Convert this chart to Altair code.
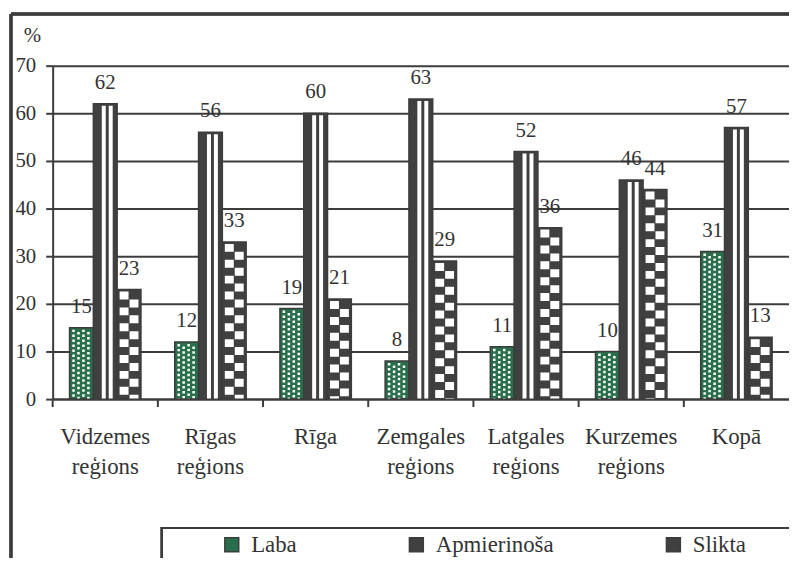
import altair as alt
import pandas as pd

categories = ["Vidzemes reģions", "Rīgas reģions", "Rīga", "Zemgales reģions",
              "Latgales reģions", "Kurzemes reģions", "Kopā"]
series = ["Laba", "Apmierinoša", "Slikta"]
laba = [15, 12, 19, 8, 11, 10, 31]
apmierinosa = [62, 56, 60, 63, 52, 46, 57]
slikta = [23, 33, 21, 29, 36, 44, 13]
y_ticks = [0, 10, 20, 30, 40, 50, 60, 70]

rows = []
for s, vals in zip(series, [laba, apmierinosa, slikta]):
    for c, v in zip(categories, vals):
        rows.append({"category": c, "series": s, "value": v})
df = pd.DataFrame(rows)
cat_df = pd.DataFrame({"category": categories})

DARK = "#3c3c3c"
FONT = "Liberation Serif"

PAD_OUTER = 0.71
step_frac = 1.0 / (3 + 2 * PAD_OUTER)
centers = {s: (PAD_OUTER + i + 0.5) * step_frac for i, s in enumerate(series)}

X = alt.X("category:N", sort=categories,
          scale=alt.Scale(paddingInner=0, paddingOuter=0),
          axis=alt.Axis(title=None, labelExpr="split(datum.label, ' ')",
                        labelFont=FONT, labelFontSize=23, labelColor="#333",
                        labelLineHeight=30, labelPadding=27, ticks=False,
                        labelAngle=0, domainColor=DARK, domainWidth=2,
                        zindex=1))
XO = alt.XOffset("series:N", sort=series,
                 scale=alt.Scale(domain=series, paddingOuter=PAD_OUTER, paddingInner=0))
Y = alt.Y("value:Q", scale=alt.Scale(domain=[0, 70], nice=False),
          axis=alt.Axis(values=y_ticks, title="%", titleAngle=0, titleX=-21,
                        titleY=-30, titleFont=FONT, titleFontSize=21,
                        titleFontWeight="normal", titleColor="#333",
                        titleAlign="center", titleBaseline="middle",
                        labelFont=FONT, labelFontSize=21, labelColor="#333",
                        labelPadding=10, tickSize=7, tickWidth=2, tickColor=DARK,
                        domainColor=DARK, domainWidth=2, grid=True,
                        gridColor=DARK, gridWidth=2))

base = alt.Chart(df)

bars = base.mark_bar(stroke=DARK, strokeWidth=1.5).encode(
    x=X, xOffset=XO, y=Y,
    color=alt.Color("series:N", sort=series,
                    scale=alt.Scale(domain=series, range=["#2a6f4c", "#404040", "#404040"]),
                    legend=alt.Legend(orient="none", legendX=169, legendY=471,
                                      direction="horizontal", title=None,
                                      symbolType="square", symbolSize=196,
                                      symbolStrokeColor=DARK, symbolStrokeWidth=1.5,
                                      labelFont=FONT, labelFontSize=23,
                                      labelColor="#333", labelOffset=8,
                                      columnPadding=109))
)


def stripes(sname, offsets, width, dash=None, alt_offset=0):
    layers = []
    for i, off in enumerate(offsets):
        kw = dict(color="white", strokeWidth=width, xOffset=off, yOffset=2, strokeCap="butt")
        if dash is not None:
            kw["strokeDash"] = dash
            if i % 2 == 1:
                kw["strokeDashOffset"] = alt_offset
        layers.append(
            base.transform_filter(alt.datum.series == sname).mark_rule(**kw).encode(
                x=alt.X("category:N", sort=categories, bandPosition=centers[sname]),
                y="value:Q", y2=alt.datum(0))
        )
    return layers

apm_layers = stripes("Apmierinoša", [-1.5, 5.5], 4)
slikta_layers = stripes("Slikta", [-5, 5], 9, dash=[8, 8], alt_offset=8)
laba_layers = stripes("Laba", [-8, -3, 2, 7], 2.5, dash=[2.5, 2.5], alt_offset=2.5)

labels = base.mark_text(font=FONT, fontSize=21, color="#333", baseline="alphabetic",
                        dy=-15).encode(
    x=alt.X("category:N", sort=categories), xOffset=XO, y="value:Q",
    text="value:Q")

xticks = alt.Chart(cat_df).mark_rule(color=DARK, strokeWidth=2).encode(
    x=alt.X("category:N", sort=categories, bandPosition=0),
    y=alt.value(336), y2=alt.value(344))

frame_top = alt.Chart(cat_df).mark_rule(color=DARK, strokeWidth=2.5).encode(
    x=alt.value(-42), x2=alt.value(760), y=alt.value(-52))
frame_left = alt.Chart(cat_df).mark_rule(color=DARK, strokeWidth=2.5).encode(
    x=alt.value(-42), y=alt.value(-52), y2=alt.value(600))
legend_box = alt.Chart(cat_df).mark_rect(fillOpacity=0, stroke=DARK, strokeWidth=2).encode(
    x=alt.value(110), x2=alt.value(760), y=alt.value(466), y2=alt.value(520))

chart = alt.layer(
    frame_top, frame_left, legend_box, bars, *laba_layers, *apm_layers,
    *slikta_layers, labels, xticks
).properties(
    width=742, height=336, autosize="none",
    padding={"left": 45, "top": 56, "right": 0, "bottom": 158},
    background="white"
).configure_view(stroke=None)

chart.save("out.html", embed_options={"renderer": "svg", "actions": False})
